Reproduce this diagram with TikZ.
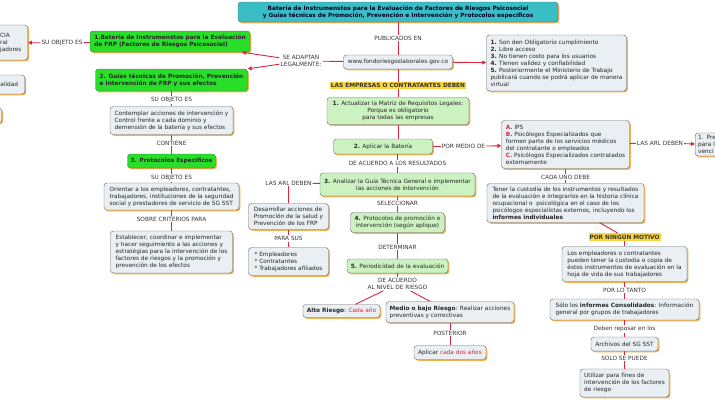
\documentclass[tikz,border=0pt]{standalone}
\usepackage{fontspec}
\setmainfont{DejaVu Sans}
\usepackage{tikz}
\usetikzlibrary{arrows.meta,positioning,shadows}
\definecolor{linkred}{RGB}{214,40,60}
\definecolor{boxgrey}{RGB}{233,239,243}
\definecolor{titleteal}{RGB}{58,190,198}
\definecolor{brightgreen}{RGB}{40,222,40}
\definecolor{softgreen}{RGB}{204,242,194}
\definecolor{shadeorange}{RGB}{238,168,60}
\definecolor{markyellow}{RGB}{250,212,60}

\begin{document}
\begin{tikzpicture}[x=1pt, y=-1pt, font=\fontsize{5.8}{7}\selectfont]
      \tikzstyle{box}=[rectangle,rounded corners=3pt,draw=black!60,text=black!85,align=left,inner sep=2pt,fill=boxgrey,drop shadow={shadow xshift=1.3pt,shadow yshift=-1.3pt,fill=shadeorange,opacity=0.9}]
      \tikzstyle{gbox}=[box,fill=brightgreen,font=\fontsize{5.8}{7}\selectfont\bfseries]
      \tikzstyle{sbox}=[box,fill=softgreen]
      \tikzstyle{lab}=[text=black!80,inner sep=1pt,align=center]
      \tikzstyle{hilite}=[lab,fill=markyellow,font=\fontsize{5.8}{7}\selectfont\bfseries]
      \tikzstyle{link}=[draw=linkred,line width=0.9pt]
      \tikzstyle{arr}=[link,-{Triangle[length=4pt,width=4pt]}]
      \useasboundingbox (0,0) rectangle (715,400);
      \clip (0,0) rectangle (715,400);

      % upper row
      \node[box,fill=titleteal,align=center,minimum width=320,minimum height=20,font=\fontsize{5.8}{7}\selectfont\bfseries,text=black!85!blue] (title) at (398,12) {Batería de Instrumenstos para la Evaluación de Factores de Riesgos Psicosocial\\ y Guías técnicas de Promoción, Prevención e Intervención y Protocolos específicos};
      \node[lab] (publ) at (398,38) {PUBLICADOS EN};
      \node[box,minimum width=109,minimum height=14,align=center] (web) at (398,62) {www.fondoriesgoslaborales.gov.co};
      \node[box,minimum width=140,minimum height=56] (list) at (556.5,63) {\textbf{1.} Son den Obligatorio cumplimiento\\ \textbf{2.} Libre acceso\\ \textbf{3.} No tienen costo para los usuarios\\ \textbf{4.} Tienen validez y confiabilidad\\ \textbf{5.} Posteriormente el Ministerio de Trabajo\\ publicará cuando se podrá aplicar de manera\\ virtual};
      \node[lab] (adapt) at (301,61) {SE ADAPTAN\\LEGALMENTE:};

      % left column
      \node[gbox,minimum width=160,minimum height=21] (n1) at (170,41.5) {1.Batería de Instrumenstos para la Evaluación\\ de FRP (Factores de Riesgos Psicosocial)};
      \node[box,anchor=east,minimum width=34,minimum height=35,inner xsep=6pt] (lcut1) at (28,42.5) {CIA\\ral\\jadores};
      \node[lab] (suobj1) at (62,43) {SU OBJETO ES};
      \node[box,anchor=east,minimum width=31,minimum height=19,inner xsep=5pt] (lcut2) at (25,84.5) {alidad};
      \node[box,anchor=east,minimum width=30,minimum height=15] (lcut3) at (2,115.5) {};
      \node[gbox,minimum width=152,minimum height=22] (n2) at (171.5,80) {2. Guías técnicas de Promoción, Prevención\\ e Intervención de FRP y sus efectos};
      \node[lab] (suobj2) at (171.5,100) {SU OBJETO ES};
      \node[box,minimum width=123,minimum height=28] (obj2) at (171.5,120.5) {Contemplar acciones de intervención y\\ Control frente a cada dominio y\\ demensión de la batería y sus efectos};
      \node[lab] (cont) at (171.5,143) {CONTIENE};
      \node[gbox,minimum width=88,minimum height=14] (n3) at (171.5,161) {3. Protocolos Especificos};
      \node[lab] (suobj3) at (171.5,178) {SU OBJETO ES};
      \node[box,minimum width=135,minimum height=27] (obj3) at (171.5,196.5) {Orientar a los empleadores, contratantes,\\ trabajadores, instituciones de la seguridad\\ social y prestadores de servicio de SG SST};
      \node[lab] (sobre) at (171.5,219) {SOBRE CRITERIOS PARA};
      \node[box,minimum width=122,minimum height=42] (crit) at (171.5,252) {Establecer, coordinar e implementar\\ y hacer seguimiento a las acciones y\\ estratégias para la intervención de los\\ factores de riesgos y la promoción y\\ prevención de los efectos};

      % middle column
      \node[hilite] (emp) at (398,85.5) {LAS EMPRESAS O CONTRATANTES DEBEN};
      \node[sbox,align=center,minimum width=142,minimum height=27] (s1) at (398,111) {\textbf{1.} Actualizar la Matriz de Requisitos Legales:\\ Porque es obligatorio\\ para todas las empresas};
      \node[sbox,minimum width=99,minimum height=15] (s2) at (383,146.5) {\textbf{2.} Aplicar la Batería};
      \node[lab] (deac) at (397.5,163.5) {DE ACUERDO A LOS RESULTADOS};
      \node[sbox,align=center,minimum width=155,minimum height=23] (s3) at (397.5,184.5) {\textbf{3.} Analizar la Guía Técnica General e implementar\\ las acciones de intervención};
      \node[lab] (selec) at (397.5,203) {SELECCIONAR};
      \node[sbox,align=center,minimum width=94,minimum height=20] (s4) at (397.5,222.5) {\textbf{4.} Protocolos de promoción e\\ intervención (según aplique)};
      \node[lab] (deter) at (397.5,247) {DETERMINAR};
      \node[sbox,minimum width=101,minimum height=14] (s5) at (397.5,266) {\textbf{5.} Periodicidad de la evaluación};
      \node[lab] (nivel) at (397.5,284) {DE ACUERDO\\AL NIVEL DE RIESGO};
      \node[box,minimum width=77,minimum height=13] (alto) at (341.5,311) {\textbf{Alto Riesgo}: \textcolor{linkred}{Cada año}};
      \node[box,minimum width=128,minimum height=21] (medio) at (450,312) {\textbf{Medio o bajo Riesgo}: Realizar acciones\\ preventivas y correctivas};
      \node[lab] (poster) at (450,333) {POSTERIOR};
      \node[box,minimum width=72,minimum height=14] (aplic) at (450,352.5) {Aplicar \textcolor{linkred}{cada dos años}};
      \node[lab] (arl1) at (288.5,183) {LAS ARL DEBEN};
      \node[box,minimum width=80,minimum height=26] (desa) at (288.5,216.5) {Desarrollar acciones de\\ Promoción de la salud y\\ Prevención de los FRP};
      \node[lab] (parasus) at (288.5,238.5) {PARA SUS};
      \node[box,minimum width=80,minimum height=28] (sus) at (288.5,261.5) {* Empleadores\\ * Contratantes\\ * Trabajadores afiliados};

      % right column
      \node[lab] (pormedio) at (463.5,146.5) {POR MEDIO DE};
      \node[box,minimum width=128,minimum height=48] (abc) at (565.5,144.5) {\textcolor{linkred}{\textbf{A.}} IPS\\ \textcolor{linkred}{\textbf{B.}} Psicólogos Especializados que\\ formen parte de los servicios médicos\\ del contratante o empleados\\ \textcolor{linkred}{\textbf{C.}} Psicólogos Especializados contratados\\ externamente};
      \node[lab] (arl2) at (660,143) {LAS ARL DEBEN};
      \node[box,anchor=west,minimum height=23,inner xsep=3pt,text width=34pt] (rcut) at (695,144.5) {1. Pre\\para l\\venci};
      \node[lab] (cadauno) at (565.5,177) {CADA UNO DEBE};
      \node[box,minimum width=157,minimum height=39] (tener) at (565.5,203) {Tener la custodia de los instrumentos y resultados\\ de la evaluación e integrarlos en la historia clínica\\ ocupacional o\ \ psicológica en el caso de los\\ psicólogos especialistas externos, incluyendo los\\ \textbf{informes individuales}};
      \node[hilite] (nomot) at (624.5,237) {POR NINGÚN MOTIVO};
      \node[box,minimum width=125,minimum height=35] (emp2) at (624.5,264) {Los empleadores o contratantes\\ pueden tener la custodia o copia de\\ éstos instrumentos de evaluación en la\\ hoja de vida de sus trabajadores};
      \node[lab] (porlo) at (624.5,290) {POR LO TANTO};
      \node[box,minimum width=149,minimum height=21] (cons) at (624.5,309.5) {Sólo los \textbf{informes Consolidados}: Información\\ general por grupos de trabajadores};
      \node[lab] (repos) at (624.5,329) {Deben reposar en los};
      \node[box,minimum width=67,minimum height=14] (arch) at (624.5,344) {Archivos del SG SST};
      \node[lab] (solo) at (624.5,358) {SOLO SE PUEDE};
      \node[box,minimum width=89,minimum height=28] (util) at (624.5,383) {Utilizar para fines de\\ intervención de los factores\\ de riesgo};

      % connectors
      \draw[link] (title) -- (publ) -- (web);
      \draw[link] (web) -- (adapt);
      \draw[arr] (adapt) -- (n1);
      \draw[arr] (adapt) -- (n2);
      \draw[arr] (web) -- (list);
      \draw[link] (web) -- (emp) -- (s1);
      \draw[link] (s1) -- (s1 |- s2.north);
      \draw[link] (deac |- s2.south) -- (deac) -- (s3);
      \draw[link] (s3) -- (selec) -- (s4) -- (deter) -- (s5) -- (nivel);
      \draw[link] (nivel) -- (alto);
      \draw[link] (nivel) -- (medio);
      \draw[link] (medio) -- (poster) -- (aplic);
      \draw[link] (s3) -- (arl1);
      \draw[link] (arl1) -- (desa) -- (parasus) -- (sus);
      \draw[link] (s2) -- (pormedio);
      \draw[arr] (pormedio) -- (abc);
      \draw[link] (abc) -- (arl2);
      \draw[arr] (arl2) -- (rcut);
      \draw[link] (abc) -- (cadauno) -- (tener);
      \draw[link] (tener) -- (nomot);
      \draw[link] (nomot) -- (emp2) -- (porlo) -- (cons) -- (repos) -- (arch) -- (solo) -- (util);
      \draw[link] (n2) -- (suobj2) -- (obj2) -- (cont) -- (n3) -- (suobj3) -- (obj3) -- (sobre) -- (crit);
      \draw[link] (n1) -- (suobj1);
      \draw[arr] (suobj1) -- (lcut1);

    \end{tikzpicture}
\end{document}
